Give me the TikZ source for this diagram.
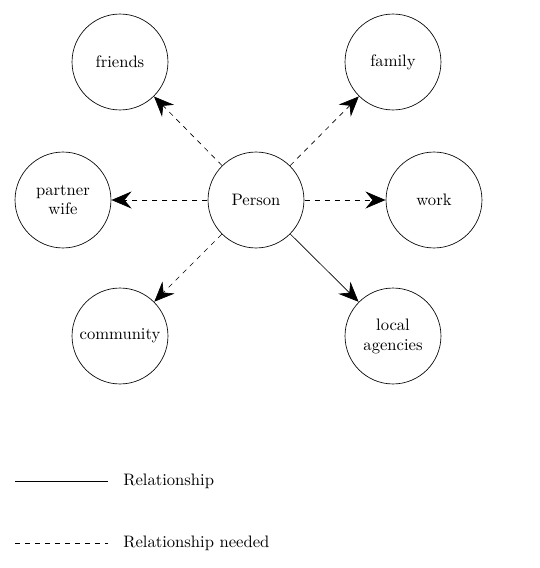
\documentclass[tikz,border=0pt]{standalone}
\usetikzlibrary{arrows.meta}
\begin{document}
\begin{tikzpicture}[x=1pt,y=-1pt,
  bubble/.style={circle,draw,line width=0.66pt,minimum size=57.8pt,inner sep=0pt,align=center,scale=1.66},
  link/.style={line width=0.66pt,-{Stealth[length=20pt,width=17pt,inset=7pt]}},
  needed/.style={link,dash pattern=on 5pt off 5pt},
  legendtext/.style={anchor=west,inner sep=0pt,scale=1.66}]
\useasboundingbox (0,0) rectangle (540,568);
\node[bubble] (person) at (256,200) {Person};
\node[bubble] (friends) at (120,62) {friends};
\node[bubble] (family) at (393,62) {family};
\node[bubble] (partner) at (63,200) {partner\\wife};
\node[bubble] (work) at (434,200) {work};
\node[bubble] (community) at (120,336) {community};
\node[bubble] (agencies) at (393,336) {local\\agencies};
\draw[needed] (person) -- (friends);
\draw[needed] (person) -- (family);
\draw[needed] (person) -- (partner);
\draw[needed] (person) -- (work);
\draw[needed] (person) -- (community);
\draw[link] (person) -- (agencies);
\coordinate (l1a) at (15,481);
\coordinate (l1b) at (108,481);
\coordinate (l2a) at (15,543);
\coordinate (l2b) at (108,543);
\draw[line width=0.66pt] (l1a) -- (l1b);
\draw[line width=0.66pt,dash pattern=on 5pt off 5pt] (l2a) -- (l2b);
\node[legendtext] (t1) at (123,481) {Relationship};
\node[legendtext] (t2) at (123,543) {Relationship needed};
\end{tikzpicture}
\end{document}
